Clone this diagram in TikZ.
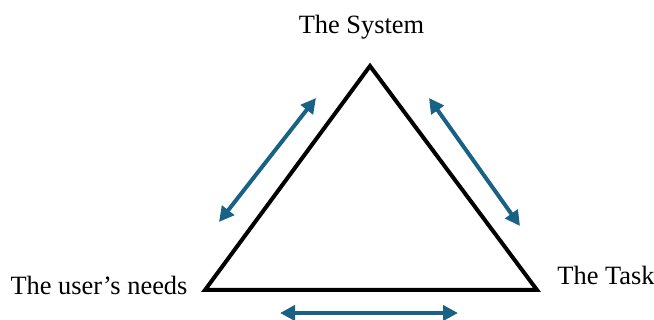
\documentclass[tikz,border=0pt]{standalone}
\usepackage{fontspec}
\setmainfont{Liberation Serif}
\usepackage{tikz}
\usetikzlibrary{arrows.meta}
\definecolor{linkBlue}{HTML}{1A6285}

\begin{document}
\begin{tikzpicture}[
  x=0.5pt,y=-0.5pt,
  label/.style={font=\fontsize{13.2}{16}\selectfont,anchor=base,inner sep=0pt},
  side/.style={draw=black,line width=2pt,line join=miter},
  link/.style={{Triangle[length=7.5pt,width=7.5pt]}-{Triangle[length=7.5pt,width=7.5pt]},line width=2pt,color=linkBlue}
]
\useasboundingbox (0,0) rectangle (654,320);
% corners of the triangle
\coordinate (top) at (370,66);
\coordinate (left) at (205,290);
\coordinate (right) at (537,290);
\draw[side] (top) -- (right) -- (left) -- cycle;
% labels
\node[label] (system) at (361.5,34) {The System};
\node[label] (task) at (606,285) {The Task};
\node[label] (user) at (99,295) {The user’s needs};
% arrow ends
\coordinate (l1) at (219,222);
\coordinate (l2) at (316,98);
\coordinate (r1) at (429,98);
\coordinate (r2) at (520,226);
\coordinate (b1) at (280,313);
\coordinate (b2) at (458,313);
\draw[link] (l1) -- (l2);
\draw[link] (r1) -- (r2);
\draw[link] (b1) -- (b2);
\end{tikzpicture}
\end{document}
